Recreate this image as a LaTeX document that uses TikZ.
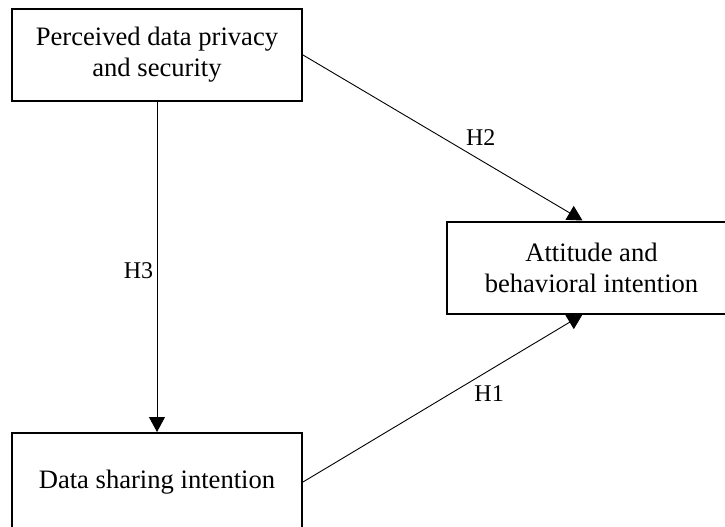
\documentclass[tikz,border=0pt]{standalone}
\usepackage{fontspec}
\setmainfont{Liberation Serif}
\usetikzlibrary{arrows.meta,positioning}
\tikzset{>={Triangle[length=15pt,width=16pt]},auto}
\tikzset{construct/.style={draw,line width=2pt,minimum width=290pt,minimum height=92pt,inner sep=0pt,align=center,font=\fontsize{26.6}{31}\selectfont}}

\begin{document}
\begin{tikzpicture}[x=1pt,y=-1pt,line width=0.9pt]
                    \tikzset{hyp/.style={font=\fontsize{24}{28}\selectfont}}
                    \useasboundingbox (0,0) rectangle (725,527);

                        \node[construct] (privacy) at (157,55) {Perceived data privacy\\and security};
                        \node[construct] (attitude) at (591.5,267.5) {Attitude and\\behavioral intention};
                        \node[construct,minimum height=98pt] (sharing) at (157,482) {Data sharing intention};
                    \path[->]
                            (privacy)  edge  node[hyp,left,pos=.51] {H3} (sharing)
                            (privacy.east)  edge  node[hyp,anchor=south west,pos=.57] {H2} ([xshift=-9pt]attitude.north)
                            (sharing.east)  edge  node[hyp,anchor=north west,pos=.6] {H1} ([xshift=-9pt]attitude.south)
                            ;
\end{tikzpicture}
\end{document}
